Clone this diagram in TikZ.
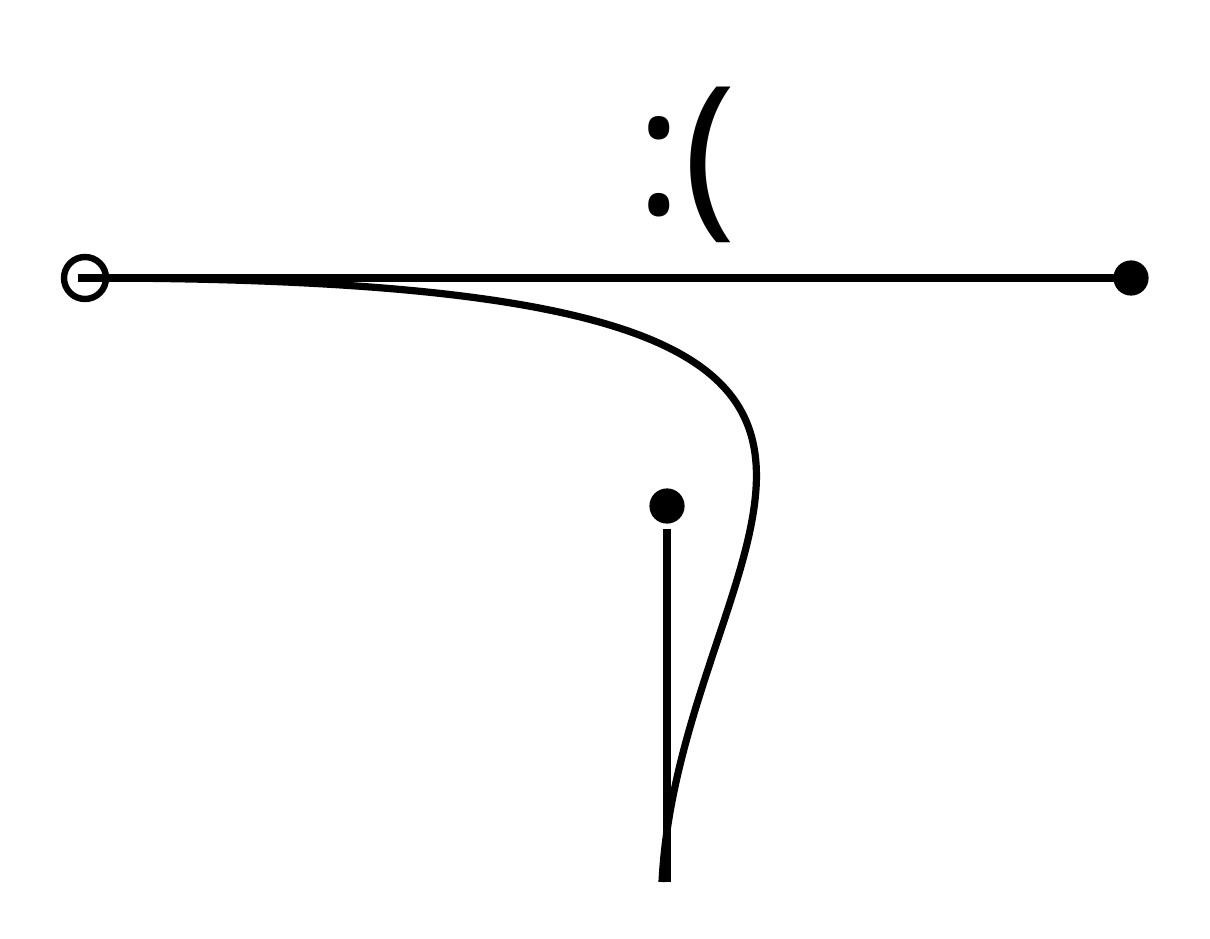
\documentclass[tikz,border=0pt]{standalone}
\usepackage{fontspec}
\setmainfont{Open Sans}
\tikzset{
  every picture/.style={line width=0.18cm},
  hollowdot/.style={circle, draw, line width=0.16cm, inner sep=0pt, minimum size=1.05cm},
  soliddot/.style={circle, fill, inner sep=0pt, minimum size=0.88cm},
  wire/.style={line width=0.18cm},
  face/.style={font=\fontsize{127}{152}\selectfont, inner sep=0pt},
}
\begin{document}
\begin{tikzpicture}[x=0.025cm, y=-0.025cm]
  \useasboundingbox (0,0) rectangle (1210,939);
  \node[hollowdot] (start) at (85,278) {};
  \node[soliddot] (end) at (1131,278) {};
  \node[soliddot] (tip) at (667,506) {};
  \node[face] (sad) at (686,165) {:(};
  \coordinate (tail) at (662,882);
  \coordinate (foot) at (667,882);
  \draw[wire] ([xshift=-0.18cm]start.center) -- (end.center);
  \draw[wire] (start.center) .. controls (1080,278) and (680,520) .. (tail);
  \draw[wire] ([yshift=-0.05cm]tip.south) -- (foot);
\end{tikzpicture}
\end{document}
